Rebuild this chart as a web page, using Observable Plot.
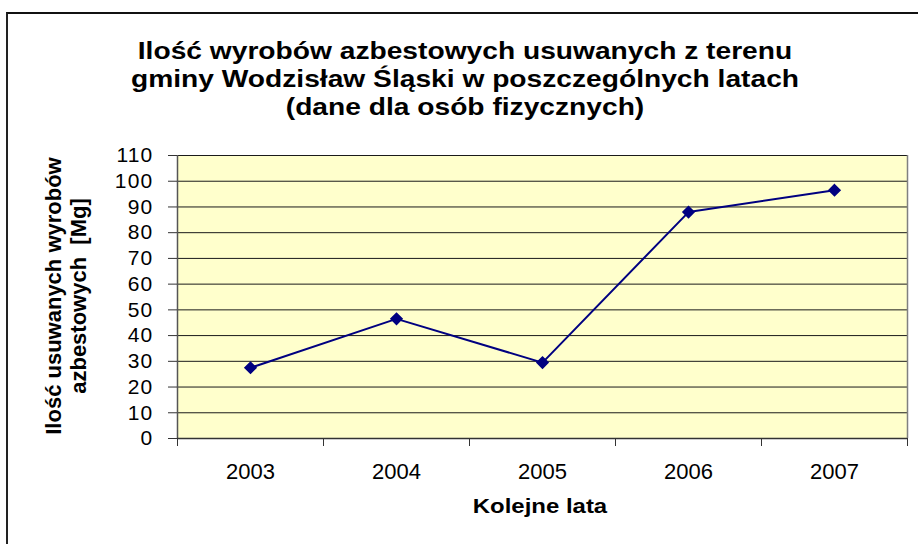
<!DOCTYPE html>
<html>
<head>
<meta charset="utf-8">
<script src="https://cdn.jsdelivr.net/npm/d3@7"></script>
<script src="https://cdn.jsdelivr.net/npm/@observablehq/plot@0.6"></script>
<style>
  html, body { margin: 0; padding: 0; background: #fff; }
  #wrap { position: relative; width: 918px; height: 544px; overflow: hidden; font-family: "Liberation Sans", Arial, sans-serif; }
  #frame { position: absolute; left: 6px; top: 12px; width: 1000px; height: 1000px; border-left: 2px solid #222; border-top: 2px solid #111; box-sizing: border-box; }
  #title { position: absolute; left: 65px; width: 800px; top: 37px; text-align: center; font-weight: bold; font-size: 23px; line-height: 28px; color: #000; transform: scaleX(1.225); transform-origin: 400px 0; }
  #ytitle { position: absolute; left: 66px; top: 296px; width: 340px; transform: translate(-50%, -50%) rotate(-90deg); text-align: center; font-weight: bold; font-size: 22px; line-height: 25px; color: #000; white-space: nowrap; }
  #xtitle { position: absolute; left: 540px; top: 506px; transform: translate(-50%, -50%) scaleX(1.14); font-weight: bold; font-size: 21px; color: #000; white-space: nowrap; }
  #chart { position: absolute; left: 0; top: 0; }
  g[aria-label="y-axis tick label"] text { letter-spacing: 1.2px; }
</style>
</head>
<body>
<div id="wrap">
  <div id="frame"></div>
  <div id="chart"></div>
  <div id="title"></div>
  <div id="ytitle"></div>
  <div id="xtitle"></div>
</div>
<script>
const titleLines = ["Ilość wyrobów azbestowych usuwanych z terenu", "gminy Wodzisław Śląski w poszczególnych latach", "(dane dla osób fizycznych)"];
const yTitleLines = ["Ilość usuwanych wyrobów", "azbestowych  [Mg]"];
const xTitle = "Kolejne lata";
const years = [2003, 2004, 2005, 2006, 2007];
const values = [27.5, 46.5, 29.5, 88, 96.5];
const yTicks = [0, 10, 20, 30, 40, 50, 60, 70, 80, 90, 100, 110];

document.getElementById("title").innerHTML = titleLines.join("<br>");
document.getElementById("ytitle").innerHTML = yTitleLines.map(s => s.replace(/  /g, " &nbsp;")).join("<br>");
document.getElementById("xtitle").textContent = xTitle;

const data = years.map((year, i) => ({year, value: values[i]}));
const xMin = years[0] - 0.5, xMax = years[years.length - 1] + 0.5;
const boundaries = years.map(y => y - 0.5).concat([xMax]);

const plot = Plot.plot({
  width: 918,
  height: 544,
  marginLeft: 177,
  marginRight: 11,
  marginTop: 155,
  marginBottom: 106,
  style: {background: "transparent", color: "#000", fontFamily: "'Liberation Sans', Arial, sans-serif"},
  x: {type: "linear", domain: [xMin, xMax]},
  y: {domain: [0, 110]},
  marks: [
    Plot.frame({fill: "#FFFFCC", stroke: null}),
    Plot.gridY(yTicks, {stroke: "#1a1a1a", strokeOpacity: 1, strokeWidth: 1}),
    Plot.ruleX([xMax], {stroke: "#808080", strokeWidth: 1.5}),
    Plot.ruleX([xMin], {stroke: "#555", strokeWidth: 1.5}),
    Plot.ruleY([0], {stroke: "#333", strokeWidth: 1.5}),
    Plot.axisY(yTicks, {tickSize: 9, tickPadding: 15, fontSize: 21, label: null, stroke: "#333"}),
    Plot.axisX(boundaries, {tickSize: 8, tickFormat: () => "", label: null, stroke: "#333"}),
    Plot.axisX(years, {tickSize: 0, tickPadding: 25, fontSize: 22, tickFormat: d => String(d), label: null}),
    Plot.line(data, {x: "year", y: "value", stroke: "#000080", strokeWidth: 2}),
    Plot.dot(data, {x: "year", y: "value", symbol: "diamond2", r: 5, fill: "#000080", stroke: "#000080"})
  ]
});
document.getElementById("chart").appendChild(plot);
</script>
</body>
</html>
